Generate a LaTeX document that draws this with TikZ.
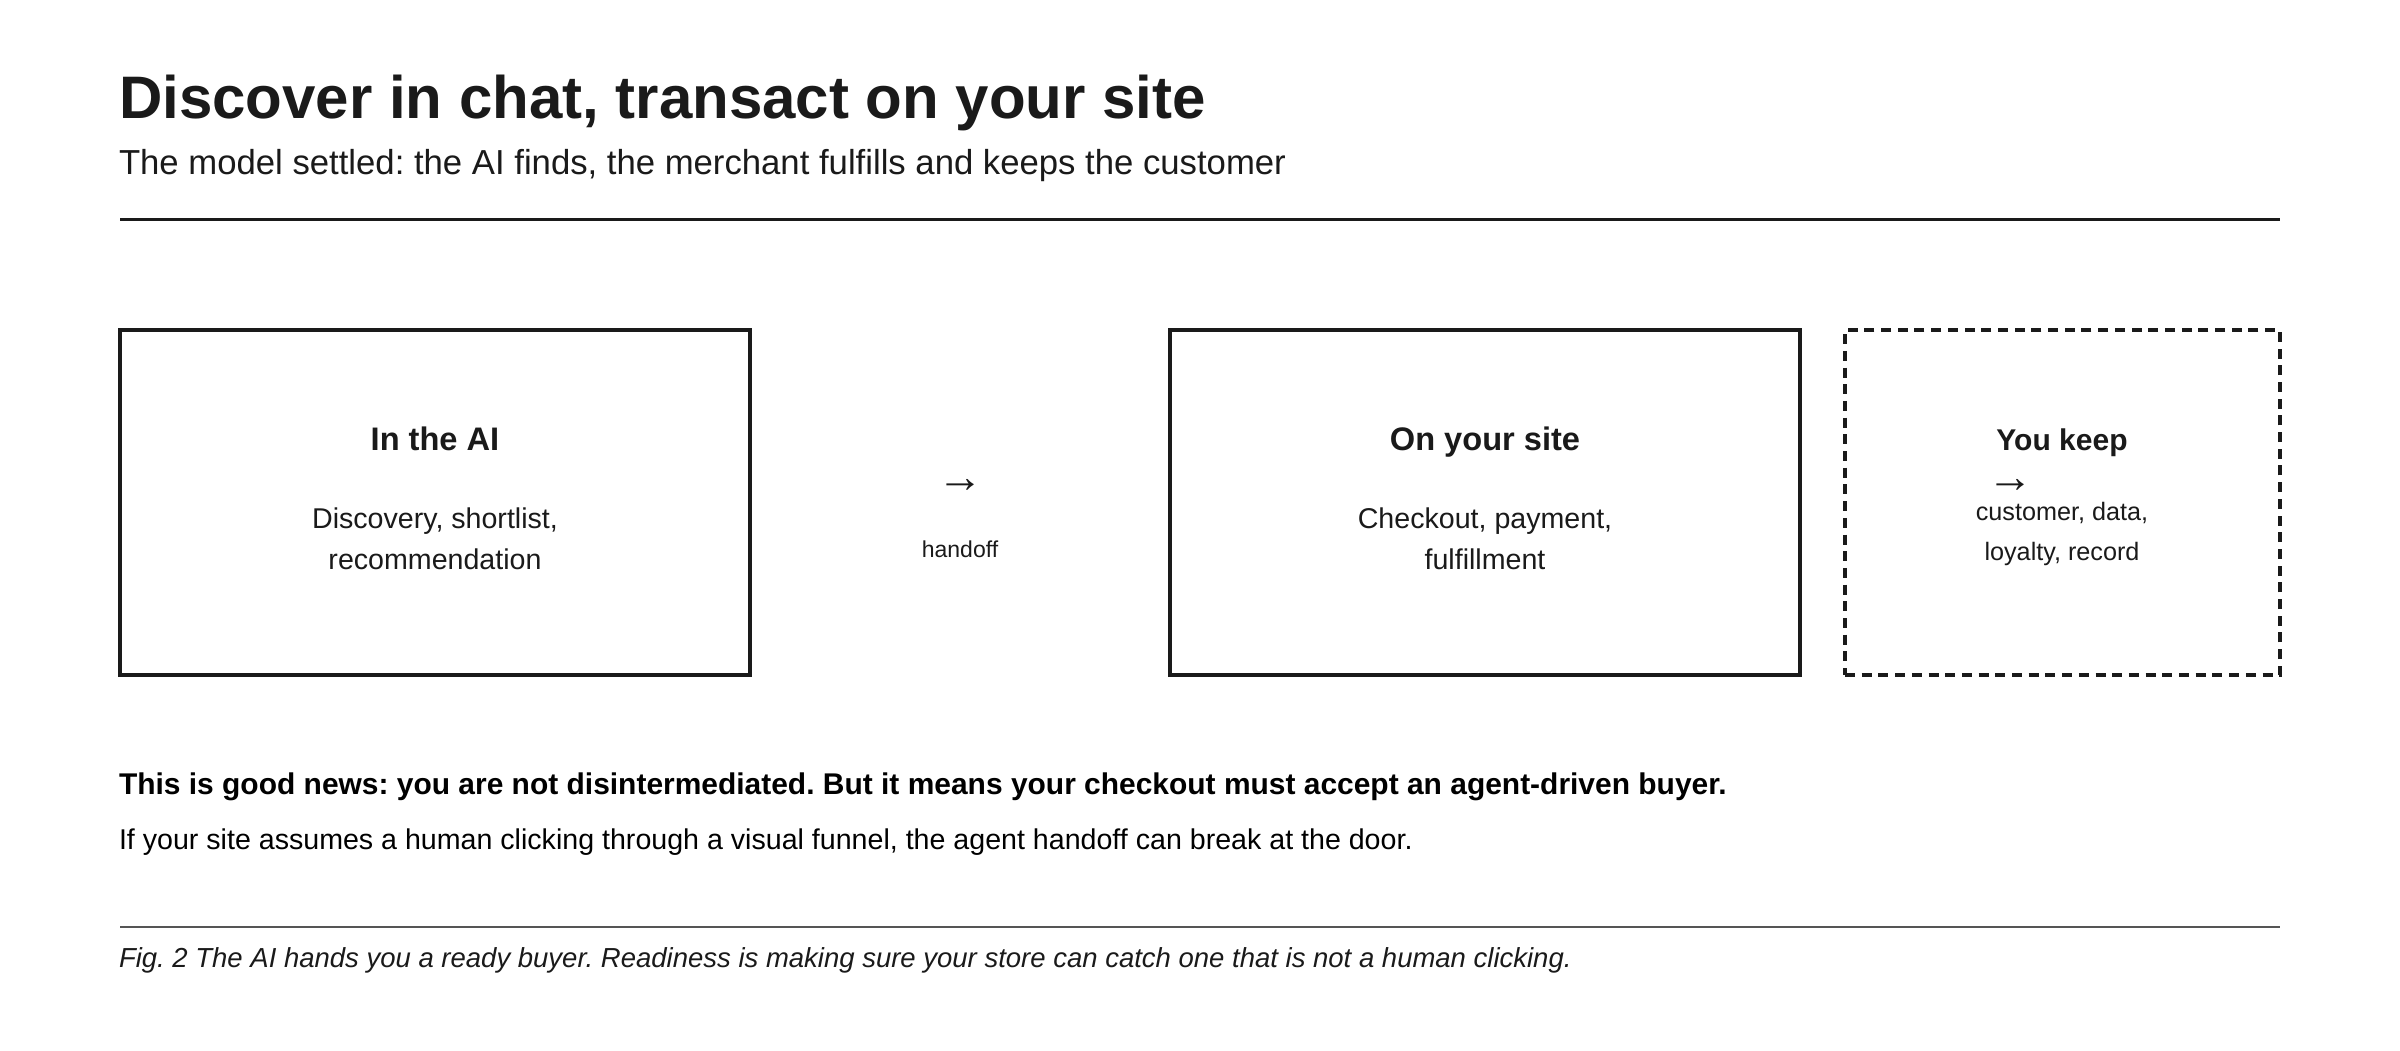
\documentclass[tikz,border=0pt]{standalone}
\usepackage{fontspec}
\setmainfont{Liberation Sans}
\definecolor{ink}{HTML}{1A1A1A}
\definecolor{rulegrey}{HTML}{555555}
\newcommand{\fs}[1]{\fontsize{#1}{#1}\selectfont}
\tikzset{
  txt/.style={inner sep=0pt, outer sep=0pt, text=ink, anchor=base},
  ltxt/.style={txt, anchor=base west},
  boxsolid/.style={draw=ink, line width=3.3pt, minimum width=630pt, minimum height=345pt, inner sep=0pt},
  boxdash/.style={draw=ink, line width=3.3pt, dash pattern=on 10pt off 6.7pt, minimum width=435pt, minimum height=345pt, inner sep=0pt},
}
\begin{document}
\frenchspacing
\begin{tikzpicture}[x=1pt,y=-1pt]
\useasboundingbox[fill=white] (0,0) rectangle (2400,1050);
% header
\node[ltxt, font=\fs{60}\bfseries] (title) at (119,118) {Discover in chat, transact on your site};
\node[ltxt, font=\fs{34.7}] (subtitle) at (119,174) {The model settled: the AI finds, the merchant fulfills and keeps the customer};
\coordinate (r1a) at (120,219);
\coordinate (r1b) at (2280,219);
\draw[ink, line width=3pt] (r1a) -- (r1b);
% boxes
\node[boxsolid] (ai) at (435,502.5) {};
\node[boxsolid] (site) at (1485,502.5) {};
\node[boxdash] (keep) at (2062.5,502.5) {};
% box texts
\node[txt, font=\fs{32.6}\bfseries] (aihead) at (435,450) {In the AI};
\node[txt, font=\fs{28.6}] (aibody1) at (435,528) {Discovery, shortlist,};
\node[txt, font=\fs{28.6}] (aibody2) at (435,569) {recommendation};
\node[txt, font=\fs{32.6}\bfseries] (sitehead) at (1485,450) {On your site};
\node[txt, font=\fs{28.6}] (sitebody1) at (1485,528) {Checkout, payment,};
\node[txt, font=\fs{28.6}] (sitebody2) at (1485,569) {fulfillment};
\node[txt, font=\fs{30}\bfseries] (keephead) at (2062,450) {You keep};
\node[txt, font=\fs{46}, anchor=center] (keeparrow) at (2010,486) {→};
\node[txt, font=\fs{25.2}] (keepbody1) at (2062,520) {customer, data,};
\node[txt, font=\fs{25.2}] (keepbody2) at (2062,560) {loyalty, record};
% handoff
\node[txt, font=\fs{46}, anchor=center] (harrow) at (960,486) {→};
\node[txt, font=\fs{23}] (hlabel) at (960,557) {handoff};
% bottom text
\node[ltxt, font=\fs{29.95}\bfseries, text=black] (news) at (119,794) {This is good news: you are not disintermediated. But it means your checkout must accept an agent-driven buyer.};
\node[ltxt, font=\fs{28.6}, text=black] (note) at (119,849) {If your site assumes a human clicking through a visual funnel, the agent handoff can break at the door.};
\coordinate (r2a) at (120,927);
\coordinate (r2b) at (2280,927);
\draw[rulegrey, line width=2pt] (r2a) -- (r2b);
\node[ltxt, font=\fs{27.5}\itshape] (caption) at (119,967) {Fig. 2 The AI hands you a ready buyer. Readiness is making sure your store can catch one that is not a human clicking.};
\end{tikzpicture}
\end{document}
